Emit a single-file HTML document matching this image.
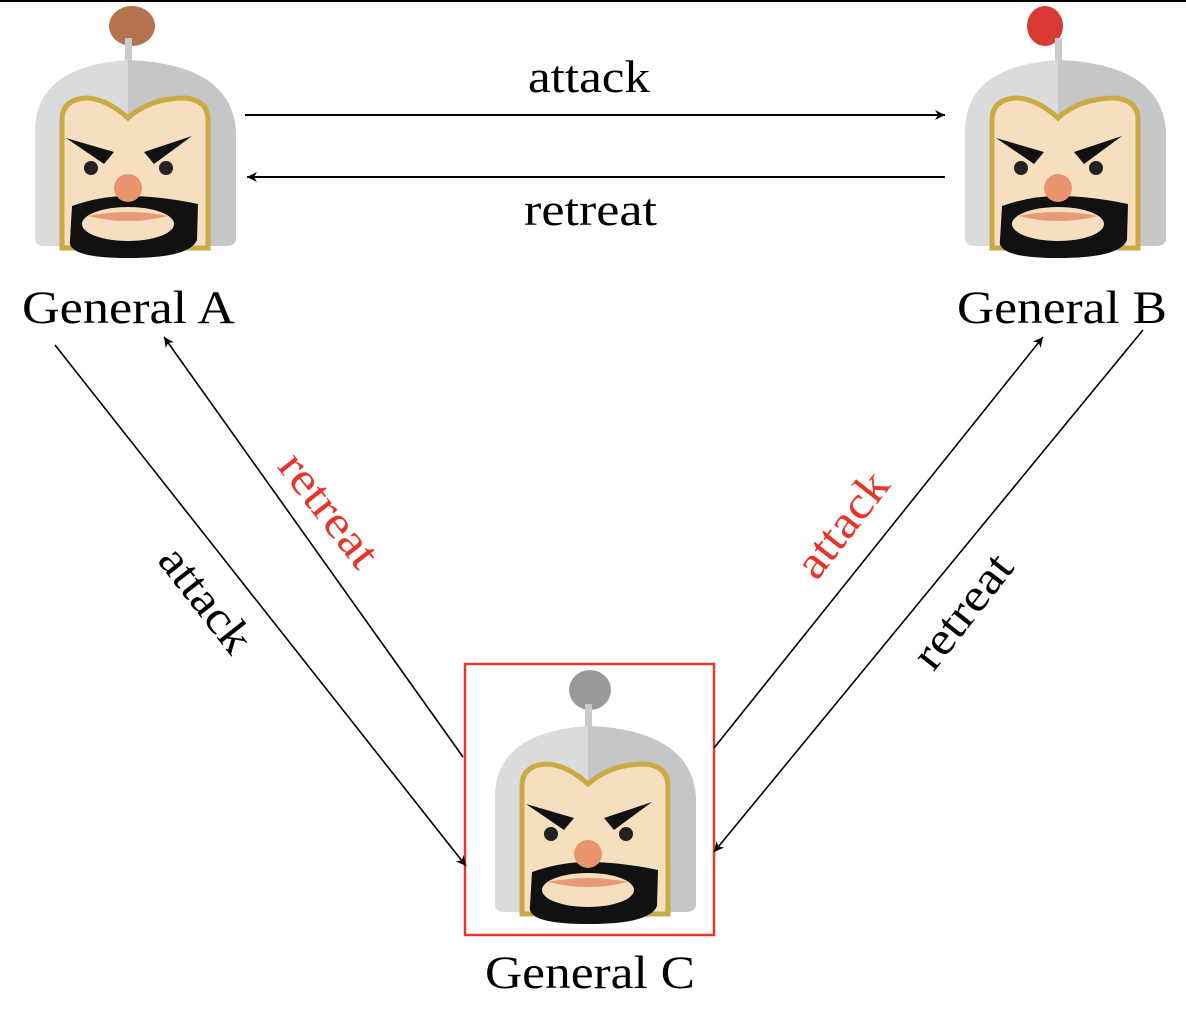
<!DOCTYPE html>
<html><head><meta charset="utf-8"><style>
html,body{margin:0;padding:0;background:#fff;width:1186px;height:1016px;overflow:hidden}
text{font-family:"Liberation Serif",serif}
</style></head><body>
<svg width="1186" height="1016" viewBox="0 0 1186 1016" xmlns="http://www.w3.org/2000/svg">
<defs>
<marker id="ah" viewBox="0 0 10 10" refX="10" refY="5" markerWidth="14" markerHeight="10" markerUnits="userSpaceOnUse" orient="auto">
<path d="M0,0 L10,5 L0,10 L3,5 z" fill="#000"/></marker>
<g id="head">
<rect x="125" y="38" width="7" height="26" fill="#c9cbcd"/>
<path d="M35,130 Q36,66 128,60 Q232,64 236,132 L236,238 Q236,246 225,246 L45,246 Q35,246 35,238 Z" fill="#d9dbdc"/>
<path d="M128,60 Q232,64 236,132 L236,238 Q236,246 225,246 L128,246 Z" fill="#c4c6c8"/>
<path d="M62,120 L62,248 L208,248 L208,120 Q208,100 185,98 Q150,98 128,118 Q106,98 85,98 Q62,100 62,120 Z" fill="#f6dfbf" stroke="#c9aa45" stroke-width="5"/>
<path d="M72,206 Q100,196 128,196 Q160,196 198,204 L197,240 Q190,258 128,258 Q66,258 70,240 Z" fill="#111"/>
<ellipse cx="128" cy="224" rx="46" ry="17" fill="#f6dfbf"/>
<path d="M88,216 Q128,208 168,216 Q128,226 88,216 Z" fill="#e89a78"/>
<path d="M66,138 L114,152 L104,164 Z" fill="#111"/>
<path d="M192,136 L144,152 L154,164 Z" fill="#111"/>
<circle cx="91" cy="168" r="7" fill="#222"/>
<circle cx="166" cy="168" r="7" fill="#222"/>
<circle cx="128" cy="188" r="14" fill="#e8956e"/>
</g>
</defs>
<rect x="0" y="0" width="1186" height="2" fill="#000"/>
<g><ellipse cx="132" cy="26" rx="23" ry="20" fill="#b5734d"/><use href="#head"/></g>
<g transform="translate(930,0)"><ellipse cx="115" cy="26" rx="18" ry="20" fill="#d93a33"/><use href="#head"/></g>
<rect x="465" y="664" width="249" height="271" fill="#fff" stroke="#e03a30" stroke-width="2.5"/>
<g transform="translate(460,666)"><ellipse cx="130" cy="24" rx="21" ry="20" fill="#9a9a9a"/><use href="#head"/></g>

<line x1="245" y1="115" x2="945" y2="115" stroke="#000" stroke-width="2" marker-end="url(#ah)"/>
<line x1="945" y1="177" x2="247" y2="177" stroke="#000" stroke-width="2" marker-end="url(#ah)"/>
<line x1="55" y1="345" x2="466" y2="866" stroke="#000" stroke-width="1.6" marker-end="url(#ah)"/>
<line x1="463" y1="757" x2="164" y2="337" stroke="#000" stroke-width="1.6" marker-end="url(#ah)"/>
<line x1="714" y1="748" x2="1043" y2="337" stroke="#000" stroke-width="1.6" marker-end="url(#ah)"/>
<line x1="1143" y1="330" x2="714" y2="852" stroke="#000" stroke-width="1.6" marker-end="url(#ah)"/>

<text x="528" y="92" font-size="46" textLength="122" lengthAdjust="spacingAndGlyphs">attack</text>
<text x="524" y="225" font-size="46" textLength="133" lengthAdjust="spacingAndGlyphs">retreat</text>
<text x="22" y="323" font-size="47" textLength="213" lengthAdjust="spacingAndGlyphs">General A</text>
<text x="957" y="323" font-size="47" textLength="210" lengthAdjust="spacingAndGlyphs">General B</text>
<text x="485" y="988" font-size="47" textLength="210" lengthAdjust="spacingAndGlyphs">General C</text>
<text transform="translate(205,600) rotate(52)" x="-61" y="14" font-size="46" textLength="122" lengthAdjust="spacingAndGlyphs">attack</text>
<text transform="translate(328,510) rotate(52)" x="-66" y="14" font-size="46" fill="#e8332a" textLength="133" lengthAdjust="spacingAndGlyphs">retreat</text>
<text transform="translate(843,525) rotate(-52)" x="-61" y="14" font-size="46" fill="#e8332a" textLength="122" lengthAdjust="spacingAndGlyphs">attack</text>
<text transform="translate(963,612) rotate(-52)" x="-66" y="14" font-size="46" textLength="133" lengthAdjust="spacingAndGlyphs">retreat</text>
</svg>
</body></html>
